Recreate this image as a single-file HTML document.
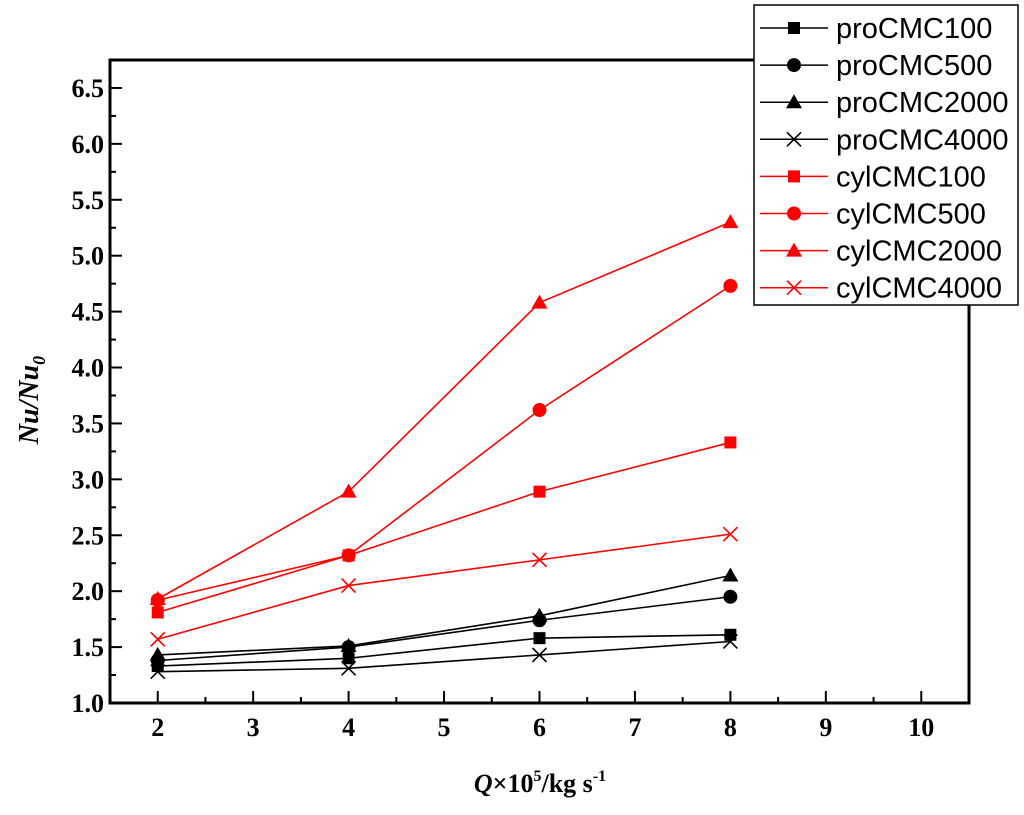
<!DOCTYPE html>
<html><head><meta charset="utf-8"><style>body{margin:0;background:#fff}svg{display:block}</style></head>
<body>
<svg id="chart" width="1024" height="815" xmlns="http://www.w3.org/2000/svg" font-family="'Liberation Serif', serif"></svg>
<script>
const categories=[2,4,6,8];
const proCMC100=[1.33,1.40,1.58,1.61];
const proCMC500=[1.38,1.50,1.74,1.95];
const proCMC2000=[1.43,1.51,1.78,2.14];
const proCMC4000=[1.28,1.31,1.43,1.55];
const cylCMC100=[1.81,2.32,2.89,3.33];
const cylCMC500=[1.92,2.32,3.62,4.73];
const cylCMC2000=[1.93,2.89,4.58,5.30];
const cylCMC4000=[1.57,2.05,2.28,2.51];
const xTicks=[2,3,4,5,6,7,8,9,10];
const yTicks=["1.0","1.5","2.0","2.5","3.0","3.5","4.0","4.5","5.0","5.5","6.0","6.5"];
const series=[
 ["proCMC100",proCMC100,"#000","square"],["proCMC500",proCMC500,"#000","circle"],
 ["proCMC2000",proCMC2000,"#000","triangle"],["proCMC4000",proCMC4000,"#000","cross"],
 ["cylCMC100",cylCMC100,"#f00","square"],["cylCMC500",cylCMC500,"#f00","circle"],
 ["cylCMC2000",cylCMC2000,"#f00","triangle"],["cylCMC4000",cylCMC4000,"#f00","cross"]];
const L=110,R=969,T=60,B=703,xmin=1.5,xmax=10.5,ymin=1,ymax=6.75;
const sx=v=>L+(v-xmin)/(xmax-xmin)*(R-L);
const sy=v=>B-(v-ymin)/(ymax-ymin)*(B-T);
const svg=document.getElementById('chart');
const NS="http://www.w3.org/2000/svg";
function mk(tag,attrs,parent){const e=document.createElementNS(NS,tag);for(const k in attrs)e.setAttribute(k,attrs[k]);(parent||svg).appendChild(e);return e;}
function marker(g,shape,x,y,c,s){
 if(shape=="square")return mk('rect',{x:x-s,y:y-s,width:2*s,height:2*s,fill:c},g);
 if(shape=="circle")return mk('circle',{cx:x,cy:y,r:s+1,fill:c},g);
 if(shape=="triangle")return mk('polygon',{points:`${x},${y-s-2} ${x-s-2},${y+s} ${x+s+2},${y+s}`,fill:c},g);
 return mk('path',{d:`M${x-s-1},${y-s-1}L${x+s+1},${y+s+1}M${x-s-1},${y+s+1}L${x+s+1},${y-s-1}`,stroke:c,'stroke-width':1.6,fill:'none'},g);
}
const frame=mk('rect',{x:L,y:T,width:R-L,height:B-T,fill:'none',stroke:'#000','stroke-width':3});

const xa=mk('g',{});
xTicks.forEach(v=>{const x=sx(v);
 mk('line',{x1:x,y1:B,x2:x,y2:B-12,stroke:'#000','stroke-width':2},xa);
 if(v<10){const xm=sx(v+0.5);mk('line',{x1:xm,y1:B,x2:xm,y2:B-6,stroke:'#000','stroke-width':2},xa);}
 const t=mk('text',{x:x,y:B+33,'text-anchor':'middle','font-size':26,'font-weight':'bold'},xa);t.textContent=v;
 });
const ya=mk('g',{});
yTicks.forEach(s=>{const v=parseFloat(s),y=sy(v);
 mk('line',{x1:L,y1:y,x2:L+12,y2:y,stroke:'#000','stroke-width':2},ya);
 const ym=sy(v+0.25);mk('line',{x1:L,y1:ym,x2:L+6,y2:ym,stroke:'#000','stroke-width':2},ya);
 const t=mk('text',{x:L-6,y:y+9,'text-anchor':'end','font-size':26,'font-weight':'bold'},ya);t.textContent=s;
 });
const xt=mk('text',{x:540,y:792,'text-anchor':'middle','font-size':26,'font-weight':'bold'});
xt.innerHTML='<tspan font-style="italic">Q</tspan>×10<tspan dy="-11" font-size="16">5</tspan><tspan dy="11">/kg s</tspan><tspan dy="-11" font-size="16">-1</tspan>';

const yt=mk('text',{x:0,y:0,transform:'translate(38,400) rotate(-90)','text-anchor':'middle','font-size':28,'font-weight':'bold','font-style':'italic'});
yt.innerHTML='Nu/Nu<tspan dy="7" font-size="18">0</tspan>';

series.forEach(([name,vals,c,shape])=>{
 const g=mk('g',{});
 const pts=vals.map((v,i)=>sx(categories[i])+','+sy(v)).join(' ');
 mk('polyline',{points:pts,fill:'none',stroke:c,'stroke-width':1.6},g);
 vals.forEach((v,i)=>{const m=marker(g,shape,sx(categories[i]),sy(v),c,6);
  });
});
const lg=mk('g',{});
mk('rect',{x:754,y:5,width:264,height:300,fill:'#fff',stroke:'#000','stroke-width':1.5},lg);
series.forEach(([name,vals,c,shape],i)=>{const y=28+i*37.1;
 const e=mk('g',{},lg);
 mk('line',{x1:760,y1:y,x2:828,y2:y,stroke:c,'stroke-width':1.5},e);
 marker(e,shape,794,y,c,6);
 const t=mk('text',{x:836,y:y+10,'font-size':29,'font-family':"'Liberation Sans', sans-serif"},e);t.textContent=name;});
</script>
</body></html>
